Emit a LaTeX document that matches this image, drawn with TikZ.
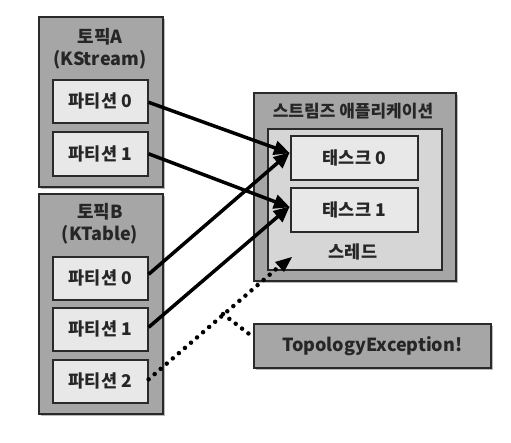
\documentclass[tikz,border=0pt]{standalone}
\usepackage{fontspec}
\setmainfont{Noto Sans CJK KR}
\usetikzlibrary{shadows,arrows.meta}
\definecolor{outergray}{HTML}{A6A6A6}
\definecolor{innerlight}{HTML}{E8E8E8}
\definecolor{threadgray}{HTML}{D6D6D6}
\definecolor{edgedark}{HTML}{2A2A2A}
\begin{document}
\begin{tikzpicture}[x=1pt,y=-1pt,
  box/.style={draw=edgedark,line width=1.6pt,inner sep=0pt,anchor=north west},
  outerbox/.style={box,fill=outergray,drop shadow={shadow xshift=2.5pt,shadow yshift=-2.5pt,fill=black!45,opacity=0.6}},
  partbox/.style={box,fill=innerlight},
  threadbox/.style={box,fill=threadgray},
  lbl/.style={font=\fontsize{17.5}{19}\selectfont\bfseries,text=black!85,inner sep=0pt},
  title/.style={font=\fontsize{18}{22}\selectfont\bfseries,align=center,text=black!85,inner sep=0pt},
  conn/.style={line width=3.5pt,-{Triangle[length=16pt,width=14pt]},shorten >=-1pt},
  dots/.style={line width=4.5pt,line cap=round,dash pattern=on 0pt off 8pt}
]
\useasboundingbox (0,0) rectangle (511,442);
% Topic A
\node[outerbox,minimum width=124pt,minimum height=170pt] (topA) at (38,16) {};
\node[title] (topAt) at (100,49) {토픽A\\(KStream)};
\node[partbox,minimum width=95pt,minimum height=43pt] (a0) at (52,79) {};
\node[lbl] (a0t) at (a0.center) {파티션 0};
\node[partbox,minimum width=95pt,minimum height=44pt] (a1) at (52,131) {};
\node[lbl] (a1t) at (a1.center) {파티션 1};
% Topic B
\node[outerbox,minimum width=124pt,minimum height=220pt] (topB) at (38,193) {};
\node[title] (topBt) at (100,224) {토픽B\\(KTable)};
\node[partbox,minimum width=95pt,minimum height=43pt] (b0) at (52,256) {};
\node[lbl] (b0t) at (b0.center) {파티션 0};
\node[partbox,minimum width=95pt,minimum height=43pt] (b1) at (52,307) {};
\node[lbl] (b1t) at (b1.center) {파티션 1};
\node[partbox,minimum width=95pt,minimum height=43pt] (b2) at (52,359) {};
\node[lbl] (b2t) at (b2.center) {파티션 2};
% App
\node[outerbox,minimum width=202pt,minimum height=188pt] (app) at (253,92) {};
\node[title,font=\fontsize{17}{20}\selectfont\bfseries] (appt) at (353,111) {스트림즈 애플리케이션};
\node[threadbox,minimum width=174pt,minimum height=141pt] (thr) at (267,128) {};
\node[partbox,minimum width=127pt,minimum height=44pt] (t0) at (290,135) {};
\node[lbl] (t0t) at (t0.center) {태스크 0};
\node[partbox,minimum width=127pt,minimum height=44pt] (t1) at (290,187) {};
\node[lbl] (t1t) at (t1.center) {태스크 1};
\node[lbl] (thrt) at (353,252) {스레드};
% Exception
\node[outerbox,minimum width=237pt,minimum height=44pt] (exc) at (253,323) {};
\node[lbl,font=\fontsize{18}{20}\selectfont\bfseries] (exct) at (exc.center) {TopologyException!};
% connectors
\coordinate (t0in) at (289,153);
\coordinate (t1in) at (289,207);
\coordinate (thrin) at (292,257);
\coordinate (branch) at (223,314);
\coordinate (excin) at (253,337);
\draw[conn] (a0.east) ++(0,1) -- (t0in);
\draw[conn] (a1.east) ++(0,0) -- (t1in);
\draw[conn] (b0.east) ++(0,-4) -- (t0in);
\draw[conn] (b1.east) ++(0,-2) -- (t1in);
\draw[dots] (b2.east) ++(0,-2) -- (282,264);
\fill (thrin) -- ++(-17,5) -- ++(9,10) -- cycle;
\draw[dots] (branch) -- (excin);
\end{tikzpicture}
\end{document}
